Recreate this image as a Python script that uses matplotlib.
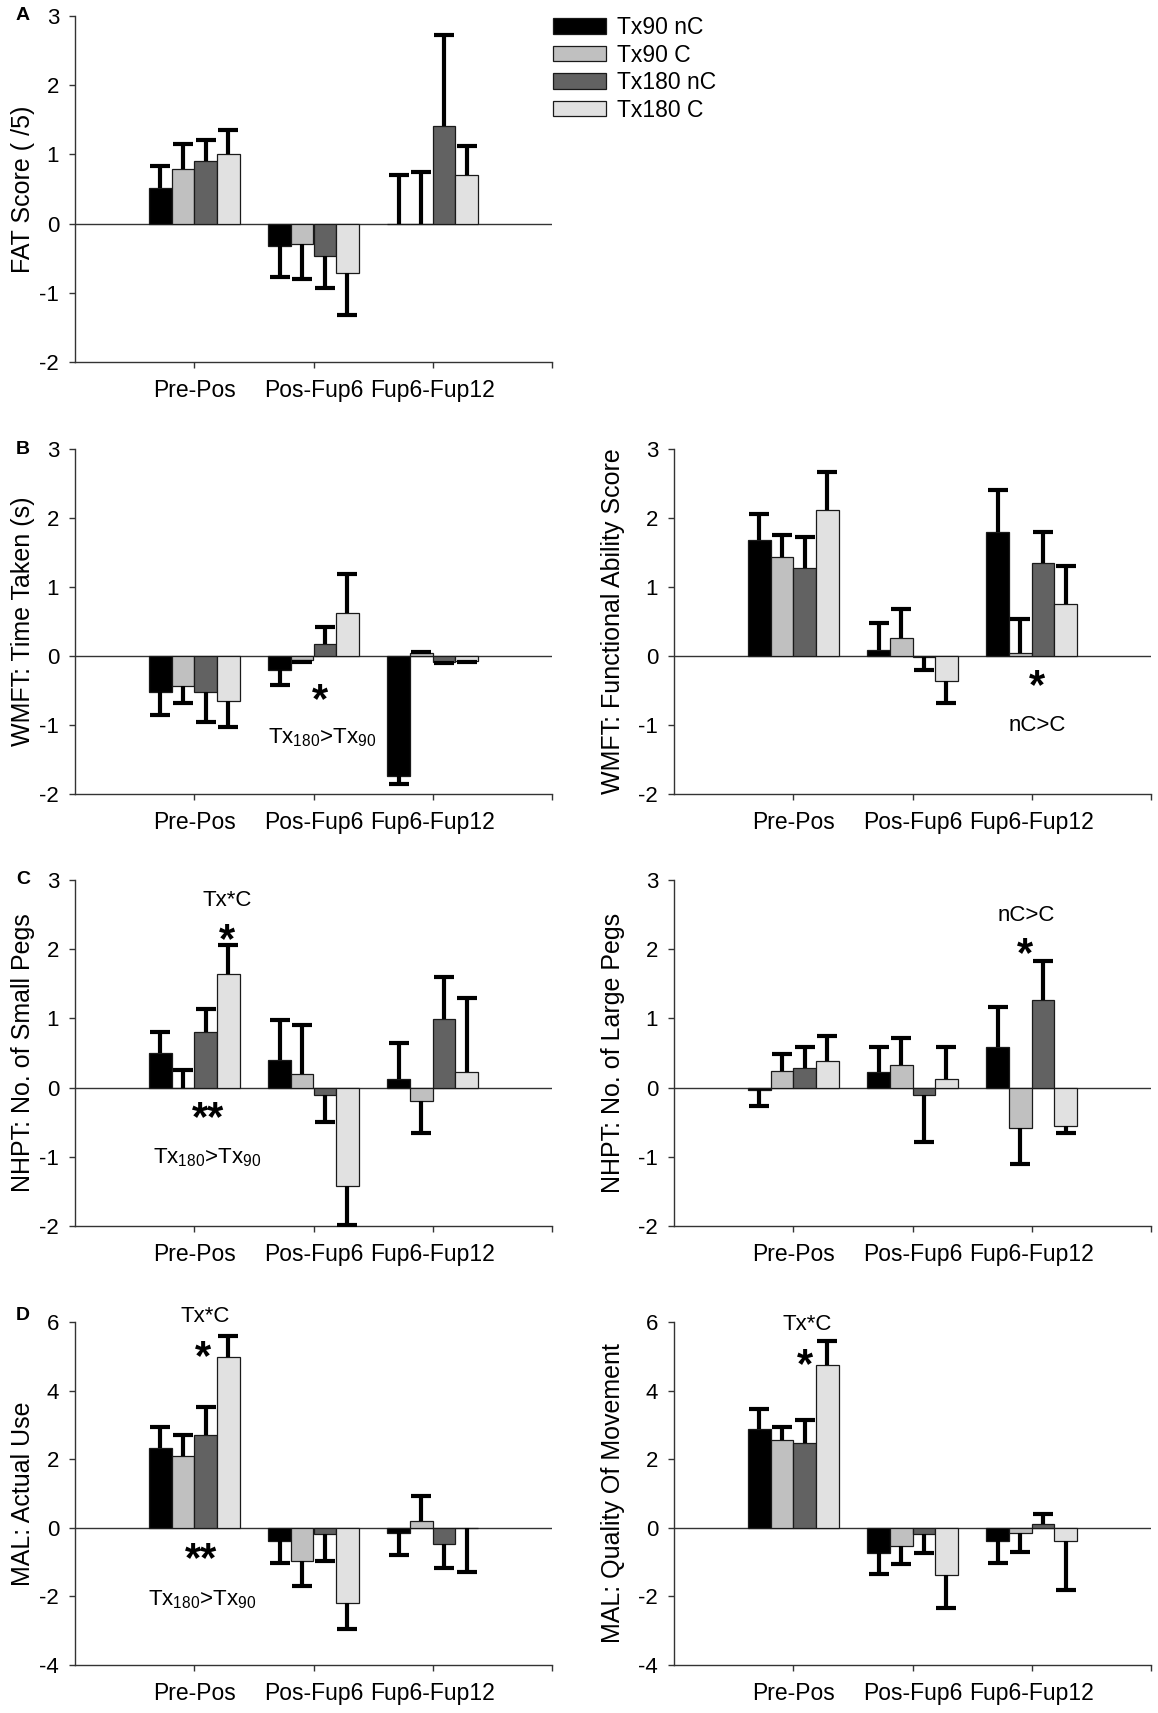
import matplotlib
matplotlib.use('Agg')
import matplotlib.pyplot as plt
import numpy as np

plt.rcParams['font.family'] = ['Liberation Sans', 'DejaVu Sans']
plt.rcParams['mathtext.fontset'] = 'custom'
plt.rcParams['mathtext.rm'] = 'Liberation Sans'
plt.rcParams['mathtext.it'] = 'Liberation Sans:italic'
plt.rcParams['mathtext.bf'] = 'Liberation Sans:bold'

# ---------------- data ----------------
periods = ['Pre-Pos', 'Pos-Fup6', 'Fup6-Fup12']
groups = ['Tx90 nC', 'Tx90 C', 'Tx180 nC', 'Tx180 C']
colors = ['#000000', '#c0c0c0', '#626262', '#e1e1e1']

# rows: Tx90 nC, Tx90 C, Tx180 nC, Tx180 C ; columns: periods
fat_mean = [[0.52, -0.32, 0.00], [0.79, -0.29, 0.00], [0.91, -0.47, 1.41], [1.01, -0.72, 0.70]]
fat_err = [[0.31, 0.45, 0.70], [0.36, 0.51, 0.75], [0.30, 0.46, 1.32], [0.34, 0.60, 0.42]]

wmft_time_mean = [[-0.515, -0.20, -1.74], [-0.43, -0.06, 0.04], [-0.515, 0.18, -0.08], [-0.65, 0.62, -0.07]]
wmft_time_err = [[0.335, 0.22, 0.12], [0.25, 0.03, 0.02], [0.445, 0.24, 0.02], [0.38, 0.57, 0.02]]

wmft_fas_mean = [[1.68, 0.08, 1.80], [1.44, 0.255, 0.04], [1.28, -0.02, 1.35], [2.12, -0.36, 0.76]]
wmft_fas_err = [[0.38, 0.40, 0.60], [0.31, 0.425, 0.49], [0.44, 0.19, 0.44], [0.55, 0.32, 0.54]]

nhpt_small_mean = [[0.50, 0.40, 0.12], [0.00, 0.19, -0.195], [0.80, -0.11, 0.99], [1.645, -1.42, 0.22]]
nhpt_small_err = [[0.30, 0.57, 0.53], [0.26, 0.71, 0.465], [0.34, 0.39, 0.61], [0.415, 0.56, 1.08]]

nhpt_large_mean = [[-0.04, 0.23, 0.59], [0.24, 0.325, -0.58], [0.28, -0.11, 1.26], [0.38, 0.12, -0.56]]
nhpt_large_err = [[0.23, 0.36, 0.58], [0.25, 0.385, 0.52], [0.30, 0.67, 0.57], [0.37, 0.47, 0.10]]

mal_use_mean = [[2.34, -0.39, -0.15], [2.08, -0.97, 0.19], [2.70, -0.19, -0.48], [4.97, -2.20, -0.02]]
mal_use_err = [[0.61, 0.65, 0.65], [0.62, 0.72, 0.73], [0.81, 0.78, 0.68], [0.63, 0.75, 1.28]]

mal_qom_mean = [[2.89, -0.73, -0.39], [2.56, -0.54, -0.15], [2.46, -0.18, 0.12], [4.75, -1.39, -0.38]]
mal_qom_err = [[0.57, 0.62, 0.63], [0.39, 0.51, 0.55], [0.68, 0.55, 0.29], [0.69, 0.96, 1.42]]

# ---------------- layout ----------------
W, H = 1158, 1713
fig = plt.figure(figsize=(W / 100, H / 100), dpi=100)

def rect(x0, x1, top, bottom):
    return [x0 / W, 1 - bottom / H, (x1 - x0) / W, (bottom - top) / H]

TICK_FS = 16
CAT_FS = 16.5
LAB_FS = 18
ANN_FS = 16
STAR_FS = 30

def panel(pos, means, errs, ylabel, ylim, yticks, label_x):
    ax = fig.add_axes(pos)
    x = np.arange(1, len(periods) + 1)
    width = 0.19
    bars = []
    for i, (m, e) in enumerate(zip(means, errs)):
        xi = x + (i - 1.5) * width
        m = np.asarray(m, float)
        e = np.asarray(e, float)
        b = ax.bar(xi, m, width=width, color=colors[i], edgecolor='#1a1a1a',
                   linewidth=0.9, zorder=2, label=groups[i])
        bars.append(b)
        sign = np.where(m >= 0, 1.0, -1.0)
        tips = m + sign * e
        ax.vlines(xi, m, tips, colors='black', linewidth=3.0, zorder=3)
        ax.plot(xi, tips, ls='none', marker='_', ms=14.5, mew=3.0, color='black', zorder=3)
    ax.axhline(0, color='#333333', lw=1.0, zorder=1.5)
    ax.set_xlim(0, 4)
    ax.set_ylim(*ylim)
    ax.set_yticks(yticks)
    ax.set_yticklabels([str(t) for t in yticks])
    ax.set_xticks([1, 2, 3, 4])
    ax.set_xticklabels(periods + [''])
    for s in ['top', 'right']:
        ax.spines[s].set_visible(False)
    for s in ['left', 'bottom']:
        ax.spines[s].set_color('#333333')
        ax.spines[s].set_linewidth(1.0)
    ax.tick_params(axis='y', direction='out', length=4, width=1, color='#333333',
                   labelsize=TICK_FS, pad=7.5)
    ax.tick_params(axis='x', direction='out', length=4, width=1, color='#333333',
                   labelsize=CAT_FS, pad=8)
    ax.set_ylabel(ylabel, fontsize=LAB_FS)
    ax.yaxis.set_label_coords(label_x, 0.5)
    return ax, bars

def star(ax, x, y, s='*'):
    ax.annotate(s, xy=(x, y), xytext=(0, -0.26 * STAR_FS), textcoords='offset points',
                ha='center', va='center', fontsize=STAR_FS, fontweight='bold')

def note(ax, x, y, s):
    ax.text(x, y, s, ha='center', va='center', fontsize=ANN_FS)

LX0, LX1 = 75, 552
RX0, RX1 = 674, 1151
tx = r'$\mathregular{Tx_{180}}$>$\mathregular{Tx_{90}}$'

# A
axA, barsA = panel(rect(LX0, LX1, 16, 362), fat_mean, fat_err, 'FAT Score ( /5)',
                   (-2, 3), [-2, -1, 0, 1, 2, 3], -0.084)

# B
axB1, _ = panel(rect(LX0, LX1, 449, 794), wmft_time_mean, wmft_time_err,
                'WMFT: Time Taken (s)', (-2, 3), [-2, -1, 0, 1, 2, 3], -0.084)
star(axB1, 2.055, -0.49)
note(axB1, 2.07, -1.18, tx)

axB2, _ = panel(rect(RX0, RX1, 449, 794), wmft_fas_mean, wmft_fas_err,
                'WMFT: Functional Ability Score', (-2, 3), [-2, -1, 0, 1, 2, 3], -0.102)
star(axB2, 3.044, -0.30)
note(axB2, 3.05, -1.01, 'nC>C')

# C
axC1, _ = panel(rect(LX0, LX1, 880, 1226), nhpt_small_mean, nhpt_small_err,
                'NHPT: No. of Small Pegs', (-2, 3), [-2, -1, 0, 1, 2, 3], -0.084)
note(axC1, 1.275, 2.71, 'Tx*C')
star(axC1, 1.275, 2.28)
star(axC1, 1.115, -0.30, '**')
note(axC1, 1.11, -1.01, tx)

axC2, _ = panel(rect(RX0, RX1, 880, 1226), nhpt_large_mean, nhpt_large_err,
                'NHPT: No. of Large Pegs', (-2, 3), [-2, -1, 0, 1, 2, 3], -0.102)
note(axC2, 2.95, 2.49, 'nC>C')
star(axC2, 2.94, 2.07)

# D
axD1, _ = panel(rect(LX0, LX1, 1322, 1665), mal_use_mean, mal_use_err,
                'MAL: Actual Use', (-4, 6), [-4, -2, 0, 2, 4, 6], -0.084)
note(axD1, 1.09, 6.15, 'Tx*C')
star(axD1, 1.073, 5.25)
star(axD1, 1.057, -0.63, '**')
note(axD1, 1.065, -2.1, tx)

axD2, _ = panel(rect(RX0, RX1, 1322, 1665), mal_qom_mean, mal_qom_err,
                'MAL: Quality Of Movement', (-4, 6), [-4, -2, 0, 2, 4, 6], -0.102)
note(axD2, 1.115, 5.92, 'Tx*C')
star(axD2, 1.10, 5.04)

# panel letters
for letter, yc in [('A', 15), ('B', 450), ('C', 880), ('D', 1316)]:
    fig.text(23 / W, 1 - yc / H, letter, ha='center', va='center',
             fontsize=14, fontweight='bold')

# legend
handles = [b.patches[0] for b in barsA]
leg = fig.legend(handles, groups, loc='upper left',
                 bbox_to_anchor=(553 / W, 1 - 16 / H), frameon=False,
                 fontsize=16.5, handlelength=2.3, handleheight=0.66,
                 handletextpad=0.5, labelspacing=0.2, borderpad=0, borderaxespad=0)

fig.savefig('out.png', dpi=100)
